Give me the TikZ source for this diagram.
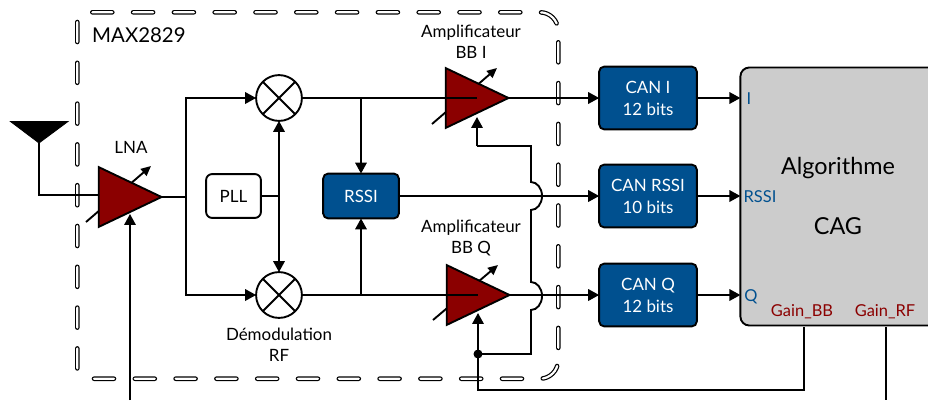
\documentclass[tikz,border=0pt]{standalone}
\usepackage{fontspec}
\setmainfont{Lato}
\usetikzlibrary{arrows.meta,shapes.geometric}
\definecolor{ampred}{HTML}{8B0000}
\definecolor{canblue}{HTML}{00508F}
\definecolor{caggray}{HTML}{CCCCCC}
\tikzset{
  wire/.style={line width=1.9pt,line cap=butt},
  arr/.style={wire,-{Triangle[length=11pt,width=11.5pt]}},
  amp/.style={draw,line width=1.9pt,fill=ampred,isosceles triangle,isosceles triangle stretches,
     minimum width=60pt,minimum height=63pt,inner sep=0pt,outer sep=0pt,anchor=apex},
  mixer/.style={draw,circle,line width=1.9pt,minimum size=46pt,inner sep=0pt,outer sep=0pt,fill=white,
     path picture={\draw[line width=1.9pt] (path picture bounding box.north west)--(path picture bounding box.south east)
        (path picture bounding box.north east)--(path picture bounding box.south west);}},
  bluebox/.style={draw,line width=1.9pt,fill=canblue,rounded corners=5pt,text=white,align=center,inner sep=0pt,outer sep=0pt,font=\fontsize{17}{22}\selectfont},
  lab/.style={font=\fontsize{17}{21}\selectfont,align=center,inner sep=0pt},
  port/.style={font=\fontsize{16.5}{18}\selectfont,inner sep=0pt},
  dashpath/.style={line cap=round,dash pattern=on 20bp off 20.8bp},
}
\begin{document}
\begin{tikzpicture}[x=1bp,y=-1bp]
\useasboundingbox (0,0) rectangle (928,400);
\clip (0,0) rectangle (928,400);
% dashed MAX2829 enclosure
\def\enclpaths{
  (92.3,12.3) -- (540,12.3) arc[start angle=90,end angle=0,radius=18bp]
  (558.3,42.3) -- (558.3,351)
  (94,378.7) -- (540,378.7) arc[start angle=-90,end angle=0,radius=18bp]
  (77.3,22) -- (77.3,372)}
\draw[dashpath,line width=4.6pt] \enclpaths;
\draw[dashpath,line width=2.2pt,white] \enclpaths;
\node[anchor=west,inner sep=0pt,font=\fontsize{20.5}{22}\selectfont] (chip) at (92,35) {MAX2829};

% gain arrows (behind the triangles)
\coordinate (lnaA) at (86,222); \coordinate (lnaB) at (151,166);
\coordinate (ampiA) at (432,124); \coordinate (ampiB) at (497,68);
\coordinate (ampqA) at (433,320); \coordinate (ampqB) at (498,265);
\foreach \a/\b in {lnaA/lnaB,ampiA/ampiB,ampqA/ampqB}
  \draw[wire,-{Triangle[length=10pt,width=9pt]}] (\a) -- (\b);

% antenna
\coordinate (anttip) at (39,143);
\draw[fill=black,line width=0.8pt] (10.5,121.5) -- (68,121.5) -- (anttip) -- cycle;

% amplifiers
\node[amp] (lna) at (161.5,197) {};
\node[amp] (ampi) at (508.5,98) {};
\node[amp] (ampq) at (509.5,295) {};

% mixers, boxes
\node[mixer] (mixi) at (279,98) {};
\node[mixer] (mixq) at (279,295) {};
\node[draw,line width=1.9pt,rounded corners=6pt,minimum width=55pt,minimum height=44pt,inner sep=0pt,outer sep=0pt,font=\fontsize{17}{18}\selectfont] (pll) at (233.5,196) {PLL};
\node[bluebox,minimum width=76pt,minimum height=45pt] (rssi) at (361,196) {RSSI};
\node[bluebox,minimum width=98pt,minimum height=63pt] (cani) at (648,98) {CAN I\\12 bits};
\node[bluebox,minimum width=98pt,minimum height=63pt] (canr) at (648,196) {CAN RSSI\\10 bits};
\node[bluebox,minimum width=98pt,minimum height=63pt] (canq) at (648,295) {CAN Q\\12 bits};
\node[draw,line width=1.9pt,fill=caggray,rounded corners=9pt,minimum width=210pt,minimum height=259pt,inner sep=0pt,outer sep=0pt] (cag) at (845,196.5) {};

% labels
\node[lab] (lnal) at (131,147) {LNA};
\node[lab] (ampil) at (471,42) {Amplificateur\\BB I};
\node[lab] (ampql) at (471,238) {Amplificateur\\BB Q};
\node[lab] (demod) at (279,345) {Démodulation\\RF};
\node[font=\fontsize{23.5}{26}\selectfont,inner sep=0pt] (alg) at (838,168) {Algorithme};
\node[font=\fontsize{23.5}{26}\selectfont,inner sep=0pt] (cagl) at (838,226) {CAG};
\node[port,text=canblue] (pi) at (749,99) {I};
\node[port,text=canblue] (pr) at (760,197) {RSSI};
\node[port,text=canblue] (pq) at (751,297) {Q};
\node[port,text=ampred] (gbb) at (802,312) {Gain\_BB};
\node[port,text=ampred] (grf) at (885,312) {Gain\_RF};

% junction and free-end coordinates
\coordinate (split) at (186,197);
\coordinate (spliti) at (186,98);
\coordinate (splitq) at (186,295);
\coordinate (lo) at (279,196);
\coordinate (ri) at (361,98);
\coordinate (rq) at (361,295);
\coordinate (dot) at (478,354);
\coordinate (lnain) at (98,195);
\coordinate (antc) at (39,195);
\coordinate (lnabot) at (130,400);
\coordinate (lnactl) at (130,214);
\coordinate (cbb) at (804,327);
\coordinate (cbbl) at (804,390);
\coordinate (dotl) at (478,390);
\coordinate (crf) at (886,327);
\coordinate (crfb) at (886,400);
\coordinate (qctl) at (478,313);
\coordinate (ictl) at (477,117);
\coordinate (ictlb) at (477,146);
\coordinate (bus) at (531,146);

% connectors
\draw[wire] (anttip) -- (antc) -- (lnain);
\draw[wire] (lna.apex) -- (split);
\draw[arr] (split) -- (spliti) -- (mixi.west);
\draw[arr] (split) -- (splitq) -- (mixq.west);
\draw[wire] (pll.east) -- (lo);
\draw[arr] (lo) -- (mixi.south);
\draw[arr] (lo) -- (mixq.north);
\draw[wire] (mixi.east) -- (ampi.left side |- mixi.east);
\draw[wire] (mixq.east) -- (ampq.left side |- mixq.east);
\draw[arr] (ri) -- (rssi.north);
\draw[arr] (rq) -- (rssi.south);
\draw[arr] (rssi.east) -- (canr.west);
\draw[arr] (ampi.apex) -- (cani.west |- ampi.apex);
\draw[arr] (ampq.apex) -- (canq.west |- ampq.apex);
\draw[arr] (cani.east) -- (cag.west |- cani.east);
\draw[arr] (canr.east) -- (cag.west |- canr.east);
\draw[arr] (canq.east) -- (cag.west |- canq.east);
\draw[arr] (lnabot) -- (lnactl);
\draw[arr] (dot) -- (qctl);
\draw[wire] (cbb) -- (cbbl) -- (dotl) -- (dot);
\draw[wire] (crf) -- (crfb);
\draw[wire,line join=miter] (dot) -- (531,354) -- (531,310)
   arc[start angle=-90,end angle=90,x radius=11bp,y radius=14bp] -- (531,210)
   arc[start angle=-90,end angle=90,x radius=11bp,y radius=14bp] -- (bus) -- (ictlb);
\draw[arr] (ictlb) -- (ictl);
\fill (dot) circle[radius=4.5bp];
\end{tikzpicture}
\end{document}
